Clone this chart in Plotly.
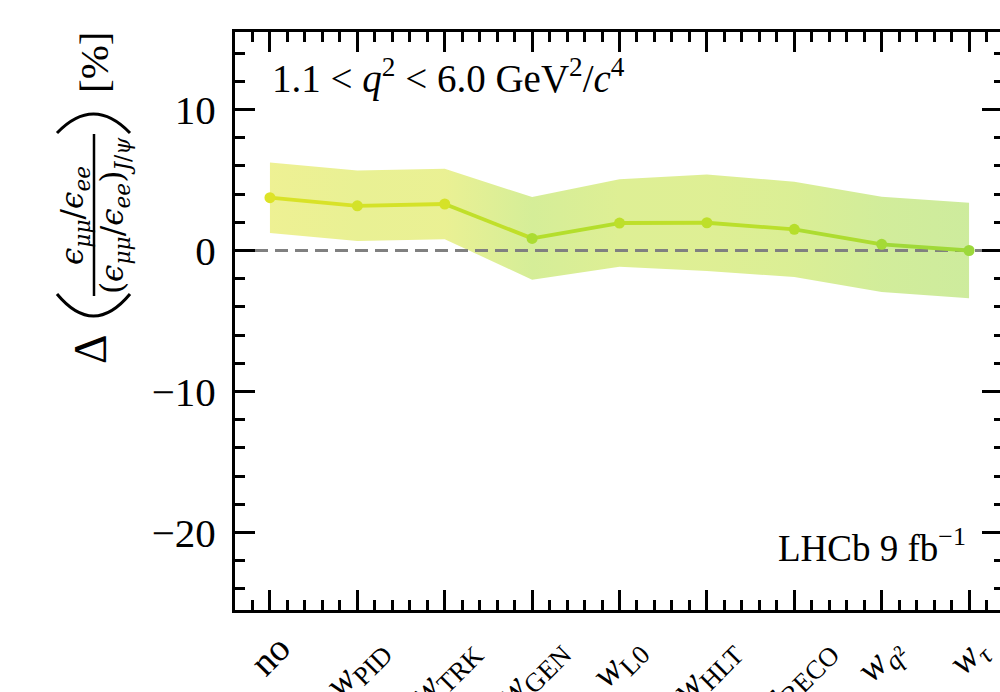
import plotly.graph_objects as go
from plotly.colors import sample_colorscale

# ---------------- data ----------------
categories = ["no", "w_PID", "w_TRK", "w_GEN", "w_L0", "w_HLT", "w_RECO", "w_q2", "w_tau"]
tick_labels = [
    "no",
    "<i>w</i><sub>PID</sub>",
    "<i>w</i><sub>TRK</sub>",
    "<i>w</i><sub>GEN</sub>",
    "<i>w</i><sub>L0</sub>",
    "<i>w</i><sub>HLT</sub>",
    "<i>w</i><sub>RECO</sub>",
    "<i>w</i><sub><i>q</i>²</sub>",
    "<i>w</i><sub><i>τ</i></sub>",
]
delta = [3.75, 3.17, 3.30, 0.86, 1.95, 1.97, 1.50, 0.44, 0.0]
uncert = [2.50, 2.50, 2.50, 2.93, 3.10, 3.42, 3.38, 3.38, 3.38]

xpos = list(range(len(categories)))
upper = [v + e for v, e in zip(delta, uncert)]
lower = [v - e for v, e in zip(delta, uncert)]

# ---------------- style ----------------
W, H = 1000, 692
L, R, T, B = 235, 0, 32, 82
PW, PH = W - L - R, H - T - B
XR = [-0.4, 8.354]
YR = [-25.5, 15.5]
FONT = "Liberation Serif"
TFONT = "DejaVu Serif"


def vcol(v, a=1.0):
    t = 0.85 + 0.10 * max(0.0, min(v, 3.75)) / 3.75
    c = sample_colorscale("Viridis", [t], colortype="tuple")[0]
    r, g, b = [int(round(255 * x)) if x <= 1 else int(round(x)) for x in c]
    return f"rgba({r},{g},{b},{a})"


def px(xp):
    return (xp - L) / PW


def py(yp):
    return (H - B - yp) / PH


fig = go.Figure()

# uncertainty band with horizontal gradient
n = len(xpos)
stops = [[i / (n - 1), vcol(delta[i], 0.5)] for i in range(n)]
fig.add_trace(go.Scatter(
    x=xpos + xpos[::-1], y=upper + lower[::-1],
    mode="lines", line=dict(width=0), fill="toself",
    fillgradient=dict(type="horizontal", colorscale=stops),
    hoverinfo="skip", showlegend=False,
))

# zero reference line
fig.add_trace(go.Scatter(
    x=XR, y=[0, 0], mode="lines",
    line=dict(color="#808080", width=3, dash="13px,7px"),
    hoverinfo="skip", showlegend=False,
))

# line segments
for i in range(n - 1):
    fig.add_trace(go.Scatter(
        x=xpos[i:i + 2], y=delta[i:i + 2], mode="lines",
        line=dict(color=vcol(0.5 * (delta[i] + delta[i + 1])), width=3.8),
        hoverinfo="skip", showlegend=False,
    ))

# markers
fig.add_trace(go.Scatter(
    x=xpos, y=delta, mode="markers",
    marker=dict(size=11, color=[vcol(v) for v in delta], line=dict(width=0)),
    showlegend=False,
))

# dummy trace for right-hand tick axis
fig.add_trace(go.Scatter(x=[], y=[], yaxis="y2", showlegend=False))

axis_common = dict(showgrid=False, zeroline=False, linecolor="black",
                   tickcolor="black", tickwidth=2.5)

fig.update_layout(
    width=W, height=H,
    margin=dict(l=L, r=R, t=T, b=B, autoexpand=False),
    paper_bgcolor="white", plot_bgcolor="white",
    font=dict(family=FONT, size=36, color="black"),
    xaxis=dict(
        range=XR, tickmode="array", tickvals=xpos,
        showline=True, linewidth=3, mirror="ticks",
        ticks="inside", ticklen=20,
        minor=dict(dtick=0.2, tick0=0, ticks="inside", ticklen=10,
                   tickwidth=2.5, tickcolor="black", showgrid=False),
        showticklabels=False, **axis_common,
    ),
    yaxis=dict(
        range=YR, tickmode="linear", tick0=0, dtick=10,
        showline=True, linewidth=3, mirror=False,
        ticks="inside", ticklen=20, ticklabelstandoff=8,
        tickfont=dict(family=FONT, size=41),
        minor=dict(dtick=2, tick0=0, ticks="inside", ticklen=10,
                   tickwidth=2.5, tickcolor="black", showgrid=False),
        **axis_common,
    ),
    yaxis2=dict(
        range=YR, overlaying="y", side="right", anchor="x",
        tickmode="linear", tick0=0, dtick=10, showline=False,
        ticks="inside", ticklen=18, showticklabels=False,
        minor=dict(dtick=2, tick0=0, ticks="inside", ticklen=6,
                   tickwidth=2.5, tickcolor="black", showgrid=False),
        **axis_common,
    ),
)

ann = []
# category labels (rotated, centred under ticks)
for xv, lab in zip(xpos, tick_labels):
    ann.append(dict(x=xv, y=py(624), xref="x", yref="paper", text=lab,
                    showarrow=False, textangle=-45, xanchor="center",
                    yanchor="top", font=dict(family=FONT, size=38)))

# text labels inside the frame
ann.append(dict(x=px(270), y=py(77), xref="paper", yref="paper",
                text="1.1 &lt; <i>q</i><sup>2</sup> &lt; 6.0 GeV<sup>2</sup>/<i>c</i><sup>4</sup>",
                showarrow=False, xanchor="left", yanchor="middle",
                font=dict(family=FONT, size=39)))
ann.append(dict(x=px(968), y=py(545), xref="paper", yref="paper",
                text="LHCb 9 fb<sup>−1</sup>",
                showarrow=False, xanchor="right", yanchor="middle",
                font=dict(family=FONT, size=37)))

# y-axis title built from rotated pieces
def rot(xp, yp, text, size, family=FONT):
    return dict(x=px(xp), y=py(yp), xref="paper", yref="paper", text=text,
                showarrow=False, textangle=-90, xanchor="center",
                yanchor="middle", font=dict(family=family, size=size))

ann.append(rot(90, 349, "Δ", 46))
ann.append(rot(74, 216, "<i>ϵ</i><sub><i>μμ</i></sub>/<i>ϵ</i><sub><i>ee</i></sub>", 31, TFONT))
ann.append(rot(114, 216, "(<i>ϵ</i><sub><i>μμ</i></sub>/<i>ϵ</i><sub><i>ee</i></sub>)<sub><i>J</i>/<i>ψ</i></sub>", 31, TFONT))
ann.append(rot(94, 63, "[%]", 41))
fig.update_layout(annotations=ann)

# fraction bar and large parentheses of the rotated y title
fig.add_shape(type="line", xref="paper", yref="paper",
              x0=px(94), x1=px(94), y0=py(296), y1=py(134),
              line=dict(color="black", width=2.5))


def arc(x0, x1, yend, yapex):
    yc = 2 * yapex - yend
    xm = 0.5 * (x0 + x1)
    return (f"M {px(x0)},{py(yend)} Q {px(xm)},{py(yc)} {px(x1)},{py(yend)}")


for path in (arc(57, 130, 294, 316), arc(57, 130, 133, 114)):
    fig.add_shape(type="path", xref="paper", yref="paper", path=path,
                  line=dict(color="black", width=3))

fig.write_html("out.html", config={"displayModeBar": False},
               post_script="document.body.style.margin='0px';")
